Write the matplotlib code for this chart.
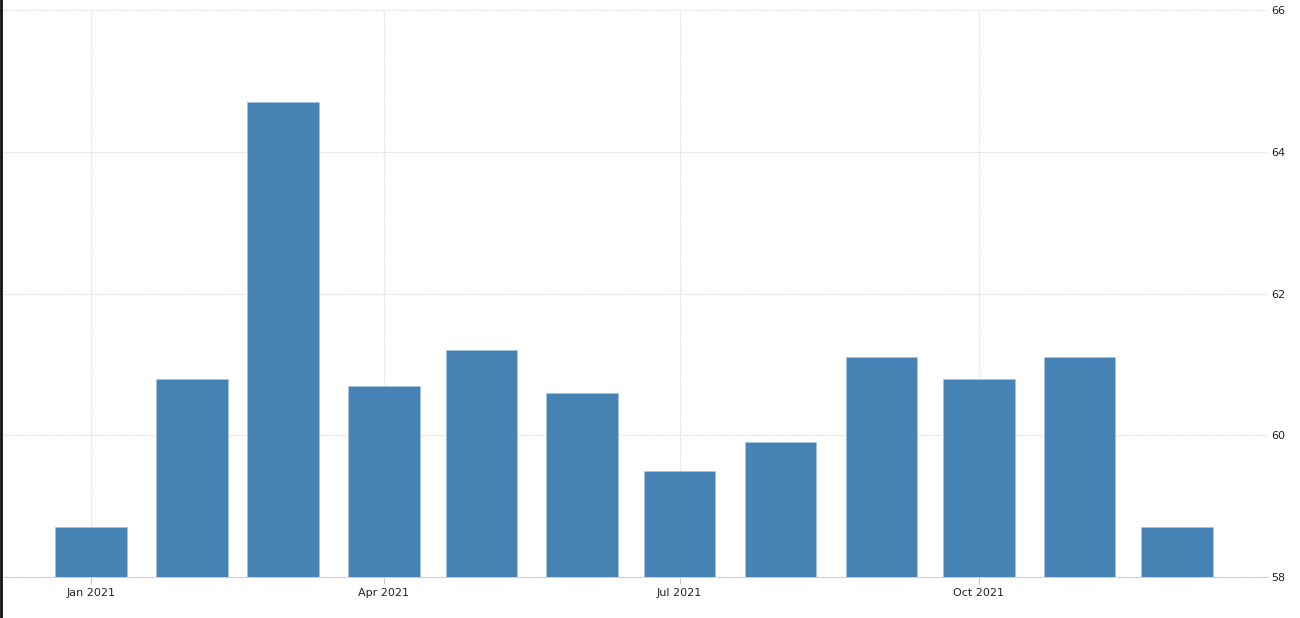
import datetime as dt
import matplotlib
matplotlib.use("Agg")
import matplotlib.pyplot as plt
from matplotlib.lines import Line2D

# 2021 monthly values
months = [dt.date(2021, m, 1) for m in range(1, 13)]
values = [58.7, 60.8, 64.7, 60.7, 61.2, 60.6, 59.5, 59.9, 61.1, 60.8, 61.1, 58.7]
tick_dates = [dt.date(2021, 1, 1), dt.date(2021, 4, 1), dt.date(2021, 7, 1), dt.date(2021, 10, 1)]
tick_labels = ["Jan 2021", "Apr 2021", "Jul 2021", "Oct 2021"]
y_ticks = [58, 60, 62, 64, 66]

fig = plt.figure(figsize=(13, 6.18), dpi=100)
ax = fig.add_axes([0.0, 0.0663, 1268 / 1300, 0.9838 - 0.0663])

ax.bar(months, [v - 58 for v in values], bottom=58, width=22,
       color="#4682b4", edgecolor="#a9c4dc", linewidth=0.6, zorder=3)

ax.set_xlim(dt.datetime(2020, 12, 4), dt.datetime(2021, 12, 28, 22))
ax.set_ylim(58, 66)

ax.set_xticks(tick_dates)
ax.set_xticklabels(tick_labels)
ax.set_yticks(y_ticks)
ax.yaxis.tick_right()

ax.grid(True, color="#d9d9d9", linestyle=(0, (1, 1)), linewidth=0.8, zorder=0)
for s in ["top", "left", "right"]:
    ax.spines[s].set_visible(False)
ax.spines["bottom"].set_color("#d0d0d0")
ax.spines["bottom"].set_linestyle((0, (1, 1)))
ax.spines["bottom"].set_linewidth(0.8)

ax.tick_params(axis="x", length=5, color="#cccccc", labelsize=8, labelcolor="#222222", pad=3)
ax.tick_params(axis="y", length=0, labelsize=8, labelcolor="#222222", pad=2)

# dark edge on the left side of the screenshot
fig.add_artist(Line2D([0.0008, 0.0008], [0, 1], color="#111111", linewidth=2, transform=fig.transFigure))

fig.savefig("out.png", dpi=100)
